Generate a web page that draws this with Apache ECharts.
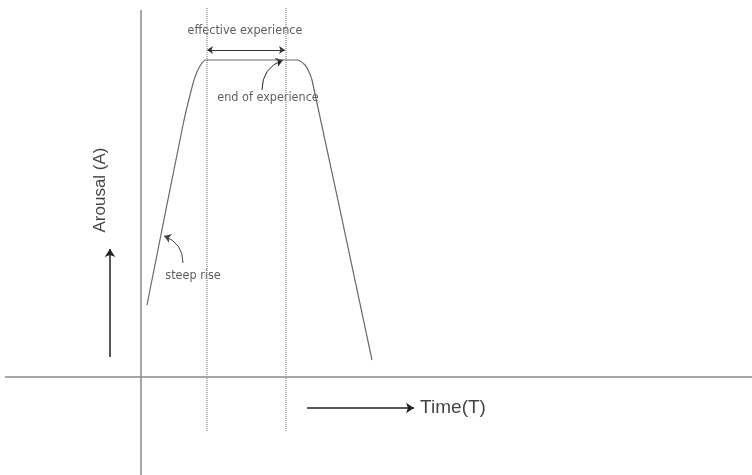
<!DOCTYPE html>
<html>
<head>
<meta charset="utf-8">
<script src="https://cdn.jsdelivr.net/npm/echarts@6/dist/echarts.min.js"></script>
<style>
  html, body { margin: 0; padding: 0; background: #fff; }
  #chart { width: 752px; height: 475px; }
</style>
</head>
<body>
<div id="chart"></div>
<script>
// Arousal curve over time (arbitrary units): steep rise, plateau, decline
const timeValues    = [0.6, 4.2, 4.9, 5.4, 5.9, 6.5, 15.6, 16.4, 16.8, 17.1, 23.1];
const arousalValues = [7.2, 25.2, 28.2, 30.0, 31.1, 31.7, 31.7, 31.2, 30.5, 29.7, 1.7];

// Start and end of the effective experience (dotted guides)
const experienceStart = 6.6;
const experienceEnd = 14.5;

// Text labels
const labelEffective = 'effective experience';
const labelEnd = 'end of experience';
const labelRise = 'steep rise';
const labelArousal = 'Arousal (A)';
const labelTime = 'Time(T)';

const curve = timeValues.map((t, i) => [t, arousalValues[i]]);

const annoFont = '"Liberation Sans Narrow", "DejaVu Sans Condensed", sans-serif';
const mainFont = '"Liberation Sans", Arial, sans-serif';

function textPoint(pos, text, opts) {
  return {
    value: pos,
    label: Object.assign({
      show: true, position: 'inside', formatter: text,
      fontFamily: annoFont, fontSize: 12.5, color: '#333'
    }, opts || {})
  };
}

function arrow(coords, ends, size, color, width, curveness) {
  return {
    coords: coords, symbol: ends, symbolSize: size,
    lineStyle: { color: color, width: width, curveness: curveness, opacity: 1 }
  };
}

const chart = echarts.init(document.getElementById('chart'));
chart.setOption({
  animation: false,
  grid: { left: 0, right: 0, top: 0, bottom: 0 },
  xAxis: { type: 'value', min: -14.1, max: 61.1, show: false },
  yAxis: { type: 'value', min: -9.8, max: 37.7, show: false },
  series: [
    // horizontal time axis
    { type: 'line', data: [[-13.6, 0], [61.1, 0]], symbol: 'none', silent: true,
      lineStyle: { color: '#8a8a8a', width: 1.5 } },
    // vertical arousal axis
    { type: 'line', data: [[0, 36.7], [0, -9.8]], symbol: 'none', silent: true,
      lineStyle: { color: '#8a8a8a', width: 1.5 } },
    // dotted guides
    { type: 'line', data: [[experienceStart, 36.9], [experienceStart, -5.5]], symbol: 'none',
      lineStyle: { color: '#9a9a9a', width: 1.5, type: [1, 1] } },
    { type: 'line', data: [[experienceEnd, 36.9], [experienceEnd, -5.5]], symbol: 'none',
      lineStyle: { color: '#9a9a9a', width: 1.5, type: [1, 1] } },
    // arousal curve
    { type: 'line', data: curve, symbol: 'none', smooth: 0.3,
      lineStyle: { color: '#6a6a6a', width: 1.2 } },
    // arrows
    { type: 'lines', coordinateSystem: 'cartesian2d', silent: true,
      data: [
        arrow([[experienceStart, 32.7], [experienceEnd - 0.1, 32.7]], ['arrow', 'arrow'], 6, '#333', 1, 0),
        arrow([[12.1, 28.7], [14.2, 31.7]], ['none', 'arrow'], 7, '#222', 1, 0.35),
        arrow([[4.2, 11.4], [2.3, 14.1]], ['none', 'arrow'], 7, '#444', 1, -0.35),
        arrow([[-3.1, 2.0], [-3.1, 12.8]], ['none', 'arrow'], 8, '#222', 1.5, 0),
        arrow([[16.6, -3.1], [27.3, -3.1]], ['none', 'arrow'], 8, '#222', 1.5, 0)
      ] },
    // text labels
    { type: 'scatter', symbolSize: 0, silent: true,
      data: [
        textPoint([10.4, 34.6], labelEffective),
        textPoint([12.7, 27.9], labelEnd),
        textPoint([5.2, 10.1], labelRise),
        textPoint([-4.1, 18.7], labelArousal,
          { fontFamily: mainFont, fontSize: 17, color: '#111', rotate: 90 }),
        textPoint([31.2, -3.1], labelTime,
          { fontFamily: mainFont, fontSize: 19, color: '#111' })
      ] }
  ]
});
</script>
</body>
</html>
